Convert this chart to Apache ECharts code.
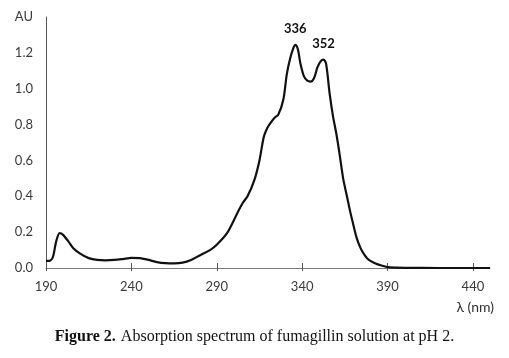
<!DOCTYPE html>
<html><head><meta charset="utf-8">
<script src="https://cdn.jsdelivr.net/npm/echarts@6/dist/echarts.min.js"></script>
<style>html,body{margin:0;padding:0;background:#fff}#c{width:509px;height:358px}</style>
</head><body><div id="c"></div>
<script>
const wavelengths = [190,192,194,196,198,200,203,206,210,215,220,225,230,235,240,245,250,255,260,265,270,275,280,286,290,296,302,305,308,312,315,317.5,319.5,321.5,324,326,329,331,333,335,336,337.5,339,341,343,345,347,349,351,352.5,354,356,358,360,362,364,366,368,370,372,374,376,378,380,383,386,390,395,400,420,450];
const absorbance  = [0.04,0.04,0.06,0.15,0.195,0.185,0.15,0.11,0.08,0.055,0.045,0.043,0.045,0.05,0.056,0.055,0.045,0.033,0.027,0.026,0.03,0.045,0.07,0.10,0.13,0.194,0.305,0.36,0.40,0.49,0.60,0.73,0.78,0.81,0.84,0.855,0.94,1.08,1.17,1.23,1.245,1.22,1.14,1.07,1.045,1.04,1.06,1.12,1.155,1.162,1.14,0.98,0.85,0.75,0.63,0.50,0.41,0.32,0.24,0.165,0.115,0.08,0.055,0.04,0.025,0.015,0.005,0.002,0.001,0,0];
const peaks = [336, 352];
const xTicks = [190,240,290,340,390,440];
const yTickLabels = ['0.0','0.2','0.4','0.6','0.8','1.0','1.2','AU'];
const xTitle = 'λ (nm)';
const caption = ['Figure 2.', 'Absorption spectrum of fumagillin solution at pH 2.'];

const peakMarks = peaks.map(p => {
  let best = 0;
  wavelengths.forEach((w, i) => { if (Math.abs(w - p) < Math.abs(wavelengths[best] - p)) best = i; });
  return { coord: [wavelengths[best], absorbance[best]], value: p };
});

const chart = echarts.init(document.getElementById('c'), null, { renderer: 'canvas' });
const labelFont = { fontFamily: 'Lato', fontSize: 13, color: '#3a3a3a' };
chart.setOption({
  animation: false,
  title: {
    text: '{b|' + caption[0] + '} {n|' + caption[1] + '}',
    left: 'center', top: 323,
    textStyle: { rich: {
      b: { fontFamily: 'Liberation Serif', fontWeight: 'bold', fontSize: 16, color: '#111' },
      n: { fontFamily: 'Liberation Serif', fontWeight: 'normal', fontSize: 16, color: '#111' }
    } }
  },
  grid: { left: 46, right: 19, top: 17, bottom: 90 },
  xAxis: [{
    type: 'value', min: 190, max: 450, position: 'bottom',
    splitLine: { show: false },
    axisLine: { lineStyle: { color: '#7a7a7a', width: 1 } },
    axisTick: { customValues: xTicks, length: 3, lineStyle: { color: '#555' } },
    axisLabel: Object.assign({ customValues: xTicks, margin: 12 }, labelFont),
    name: xTitle, nameLocation: 'end', nameGap: 0,
    nameTextStyle: { fontFamily: 'Lato', fontSize: 14, color: '#303030',
      align: 'right', verticalAlign: 'top', padding: [32, -4, 0, 0] }
  }, {
    type: 'value', min: 190, max: 450, position: 'bottom',
    splitLine: { show: false }, axisLine: { show: false },
    axisTick: { customValues: xTicks, inside: true, length: 5, lineStyle: { color: '#555' } },
    axisLabel: { show: false }
  }],
  yAxis: {
    type: 'value', min: 0, max: 1.4, interval: 0.2,
    splitLine: { show: false },
    axisLine: { show: true, lineStyle: { color: '#555', width: 1 } },
    axisTick: { show: false },
    axisLabel: Object.assign({ margin: 13,
      formatter: (v) => yTickLabels[Math.round(v / 0.2)] }, labelFont)
  },
  series: [{
    type: 'line', xAxisIndex: 0, data: wavelengths.map((w, i) => [w, absorbance[i]]),
    smooth: 0.3, symbol: 'none', showSymbol: false,
    lineStyle: { color: '#111', width: 2.2 },
    markPoint: {
      symbol: 'circle', symbolSize: 1, itemStyle: { color: 'rgba(0,0,0,0)' },
      label: { show: true, position: 'top', distance: 9, formatter: (p) => String(p.value),
        fontFamily: 'Lato', fontWeight: 'bold', fontSize: 13, color: '#111' },
      data: peakMarks
    }
  }]
});
</script></body></html>
